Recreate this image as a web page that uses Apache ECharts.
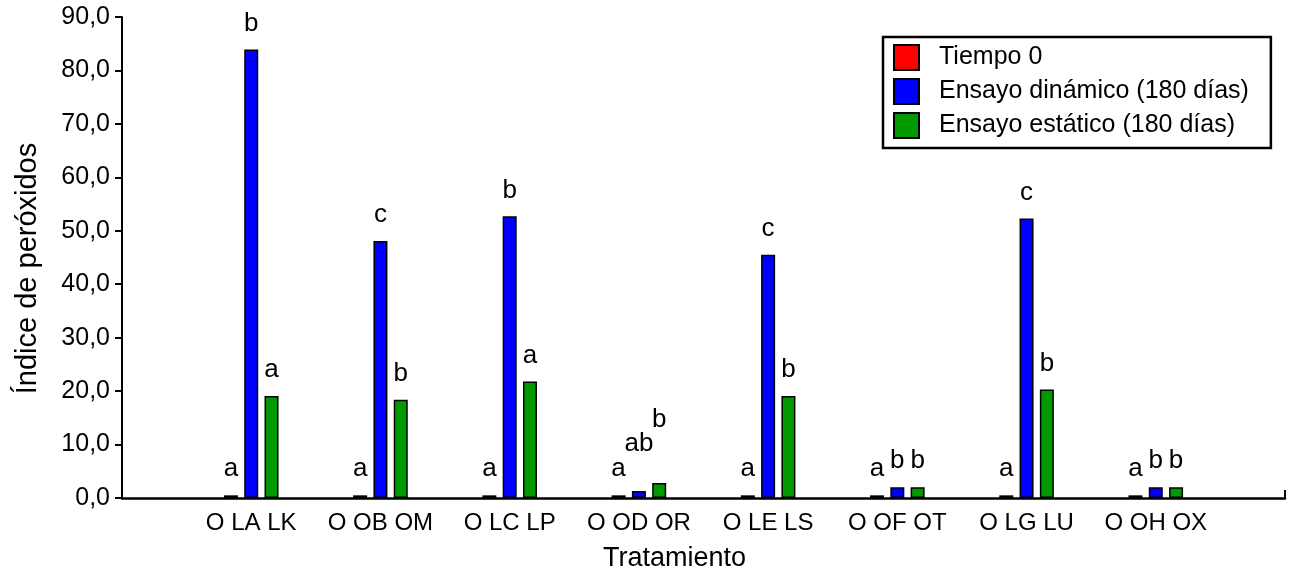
<!DOCTYPE html>
<html><head><meta charset="utf-8">
<script src="https://cdn.jsdelivr.net/npm/echarts@6/dist/echarts.min.js"></script>
<style>html,body{margin:0;padding:0;background:#fff}#c{width:1294px;height:580px}</style>
</head><body><div id="c"></div>
<script>
const categories = ["O LA LK","O OB OM","O LC LP","O OD OR","O LE LS","O OF OT","O LG LU","O OH OX"];
const seriesNames = ["Tiempo 0","Ensayo dinámico (180 días)","Ensayo estático (180 días)"];
const tiempo0  = [0.5, 0.5, 0.5, 0.5, 0.5, 0.5, 0.5, 0.5];
const dinamico = [83.9, 48.1, 52.7, 1.3, 45.5, 2.0, 52.3, 2.0];
const estatico = [19.1, 18.4, 21.8, 2.8, 19.1, 2.0, 20.3, 2.0];
const letrasTiempo0  = ["a","a","a","a","a","a","a","a"];
const letrasDinamico = ["b","c","b","ab","c","b","c","b"];
const letrasEstatico = ["a","b","a","b","b","b","b","b"];
const yMin = 0, yMax = 90, yStep = 10;

const FONT = '"Liberation Sans", Arial, sans-serif';
// extra label lift for staggered letters (group index -> distance)
const liftDinamico = {3: 34};
const liftEstatico = {3: 50};

function mk(name, values, letters, color, lift) {
  return {
    name: name, type: 'bar', barWidth: 14, barGap: '45%',
    itemStyle: {color: color, borderColor: '#000', borderWidth: 1.5},
    data: values.map(function (v, i) {
      return {value: v, label: {show: true, position: 'top',
        distance: (lift[i] !== undefined ? lift[i] : 13),
        formatter: letters[i], color: '#000', fontSize: 26, fontFamily: FONT}};
    })
  };
}

const chart = echarts.init(document.getElementById('c'), null, {renderer: 'canvas'});
chart.setOption({
  animation: false,
  backgroundColor: '#fff',
  grid: {left: 122, right: 9, top: 17, bottom: 82, containLabel: false},
  legend: {
    orient: 'vertical', left: 883, top: 37,
    itemWidth: 25, itemHeight: 25, itemGap: 7,
    padding: [7, 22, 9, 10],
    borderColor: '#000', borderWidth: 2.5, backgroundColor: '#fff',
    icon: 'rect',
    textStyle: {fontSize: 25, color: '#000', fontFamily: FONT, padding: [0, 0, 0, 15]},
    data: seriesNames
  },
  xAxis: {
    type: 'category', data: categories, min: -1, max: 8, boundaryGap: false,
    axisLine: {lineStyle: {color: '#000', width: 2.5}},
    axisTick: {show: true, inside: true, length: 8, lineStyle: {color: '#000', width: 2},
      interval: function (idx) { return idx === 8; }},
    splitLine: {show: false},
    axisLabel: {interval: 0, margin: 13, color: '#000', fontSize: 24, fontFamily: FONT,
      formatter: function (v) { return (v === undefined || v === null || v === 'undefined') ? '' : v; }},
    name: 'Tratamiento', nameLocation: 'middle', nameGap: 47,
    nameTextStyle: {fontSize: 27, color: '#000', fontFamily: FONT, padding: [0, 58, 0, 0]}
  },
  yAxis: {
    type: 'value', min: yMin, max: yMax, interval: yStep,
    axisLine: {show: true, lineStyle: {color: '#000', width: 2}},
    axisTick: {show: true, length: 7, lineStyle: {color: '#000', width: 2}},
    splitLine: {show: false},
    axisLabel: {margin: 12, color: '#000', fontSize: 25, fontFamily: FONT,
      formatter: function (v) { return v.toFixed(1).replace('.', ','); }},
    name: 'Índice de peróxidos', nameLocation: 'middle', nameGap: 80, nameRotate: 90,
    nameTextStyle: {fontSize: 29, color: '#000', fontFamily: FONT, padding: [0, 22, 0, 0]}
  },
  series: [
    mk(seriesNames[0], tiempo0, letrasTiempo0, '#ff0000', {}),
    mk(seriesNames[1], dinamico, letrasDinamico, '#0000ff', liftDinamico),
    mk(seriesNames[2], estatico, letrasEstatico, '#009a00', liftEstatico)
  ]
});
</script></body></html>
